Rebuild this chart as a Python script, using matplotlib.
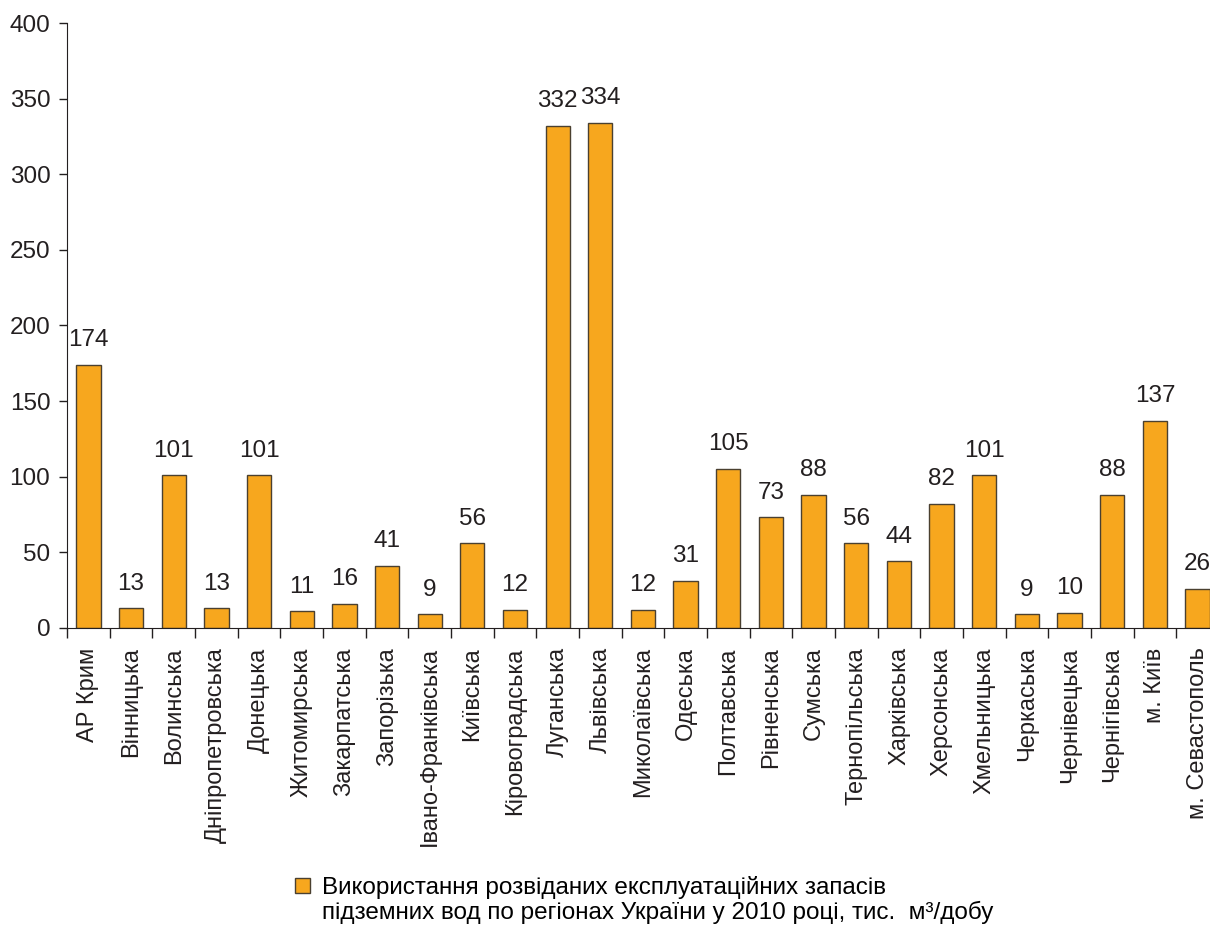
import matplotlib.pyplot as plt
from matplotlib.patches import Patch

plt.rcParams['font.family'] = ['Liberation Sans', 'DejaVu Sans']

regions = ['АР Крим', 'Вінницька', 'Волинська', 'Дніпропетровська', 'Донецька',
           'Житомирська', 'Закарпатська', 'Запорізька', 'Івано-Франківська', 'Київська',
           'Кіровоградська', 'Луганська', 'Львівська', 'Миколаївська', 'Одеська',
           'Полтавська', 'Рівненська', 'Сумська', 'Тернопільська', 'Харківська',
           'Херсонська', 'Хмельницька', 'Черкаська', 'Чернівецька', 'Чернігівська',
           'м. Київ', 'м. Севастополь']
values = [174, 13, 101, 13, 101, 11, 16, 41, 9, 56, 12, 332, 334, 12, 31,
          105, 73, 88, 56, 44, 82, 101, 9, 10, 88, 137, 26]
legend_lines = ['Використання розвіданих експлуатаційних запасів',
                'підземних вод по регіонах України у 2010 році, тис.  м³/добу']

fig = plt.figure(figsize=(12.1, 9.26), dpi=100)
ax = fig.add_axes([0.0554, 0.322, 0.952, 0.653])

x = list(range(len(values)))
ax.bar(x, values, width=0.57, color='#F7A71E', edgecolor='#4a4030', linewidth=1)
for xi, v in zip(x, values):
    ax.text(xi, v + 9, str(v), ha='center', va='bottom', fontsize=17.5, color='#231f20')

ax.set_xlim(-0.5, len(values) - 0.5)
ax.set_ylim(0, 400)
ax.set_yticks(range(0, 401, 50))
ax.tick_params(axis='y', labelsize=17.5, length=6, width=1, colors='#231f20', pad=6)

ax.set_xticks([i + 0.5 for i in range(-1, len(values) - 1)])
ax.set_xticklabels([])
ax.set_xticks(x, minor=True)
ax.set_xticklabels(regions, minor=True, rotation=90, fontsize=17, color='#231f20')
ax.tick_params(axis='x', which='major', length=7, width=1, color='#231f20')
ax.tick_params(axis='x', which='minor', length=0, pad=14)

for s in ['top', 'right']:
    ax.spines[s].set_visible(False)
ax.spines['left'].set_color('#231f20')
ax.spines['bottom'].set_color('#231f20')

handles = [Patch(facecolor='#F7A71E', edgecolor='#4a4030'),
           Patch(facecolor='none', edgecolor='none')]
fig.legend(handles, legend_lines, loc='lower left', bbox_to_anchor=(0.226, -0.022),
           frameon=False, fontsize=17.5, handlelength=0.6, handleheight=0.6,
           handletextpad=0.5, labelspacing=0.1)

fig.savefig('out.png')
